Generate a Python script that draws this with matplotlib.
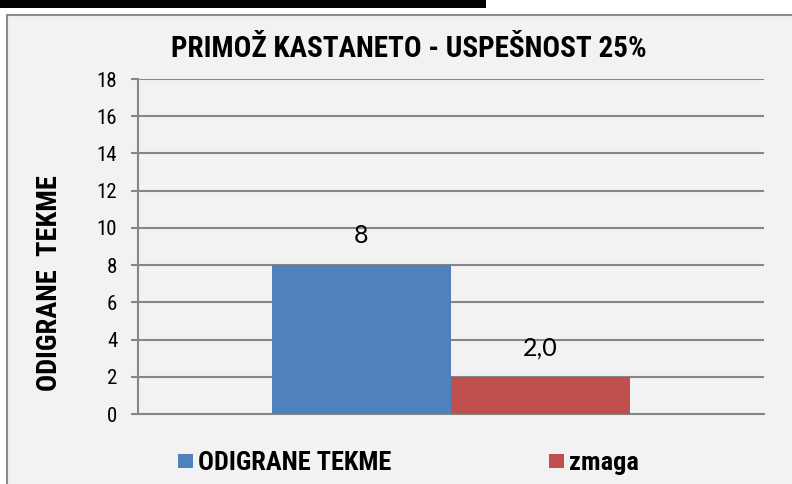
import matplotlib
matplotlib.use("Agg")
import matplotlib.pyplot as plt
from matplotlib.patches import Rectangle

title = "PRIMOŽ KASTANETO - USPEŠNOST 25%"
ylabel = "ODIGRANE  TEKME"
series = ["ODIGRANE TEKME", "zmaga"]
values = [8, 2.0]
value_labels = ["8", "2,0"]
colors = ["#4f81bd", "#c0504d"]
yticks = [0, 2, 4, 6, 8, 10, 12, 14, 16, 18]

NARROW = ["Roboto Condensed", "DejaVu Sans"]
LABEL = ["Lato", "DejaVu Sans"]

W, H = 792, 484
fig = plt.figure(figsize=(W / 100, H / 100), dpi=100)
fig.patch.set_facecolor("white")

# chart frame
fig.patches.append(Rectangle((7 / W, -0.05), 1.1, 1 - 15 / H + 0.05, transform=fig.transFigure,
                             facecolor="#f2f2f2", edgecolor="#8c8c8c", linewidth=1.5, zorder=0))
# black bar at top
fig.patches.append(Rectangle((0, 1 - 8 / H), 486 / W, 8 / H, transform=fig.transFigure,
                             facecolor="black", edgecolor="none", zorder=1))

ax = fig.add_axes([138 / W, 1 - 414 / H, 626 / W, 335 / H])
ax.set_zorder(3)
ax.set_facecolor("none")
bw = 0.286
offsets = [-bw, 0]
for i, (s, v, c) in enumerate(zip(series, values, colors)):
    ax.bar(offsets[i], v, width=bw, align="edge", color=c, label=s, zorder=3)
    ax.text(offsets[i] + bw / 2, v + 0.95, value_labels[i], ha="center", va="bottom",
            fontsize=18, family=LABEL, zorder=4)

ax.set_xlim(-0.5, 0.5)
ax.set_ylim(0, 18)
ax.set_yticks(yticks)
ax.set_yticklabels([str(t) for t in yticks], family=NARROW, fontsize=15)
ax.set_xticks([])
ax.yaxis.grid(True, color="#868686", linewidth=1.5, zorder=1)
for sp in ["top", "right"]:
    ax.spines[sp].set_visible(False)
for sp in ["left", "bottom"]:
    ax.spines[sp].set_color("#868686")
    ax.spines[sp].set_linewidth(1.5)
ax.tick_params(axis="y", length=5, width=1.5, color="#868686", pad=10)

fig.text(409 / W, 1 - 49 / H, title, ha="center", va="center", fontsize=21,
         fontweight="bold", family=NARROW)
fig.text(50 / W, 1 - 283 / H, ylabel, ha="center", va="center", rotation=90,
         fontsize=20.5, fontweight="bold", family=NARROW)

leg = fig.legend(loc="center left", bbox_to_anchor=(178 / W, 1 - 463 / H), ncol=2, frameon=False,
                 prop={"family": NARROW, "weight": "bold", "size": 19}, borderpad=0,
                 borderaxespad=0, handlelength=0.55, handleheight=0.45, handletextpad=0.2,
                 columnspacing=6.0)

fig.savefig("out.png", dpi=100, facecolor=fig.get_facecolor())
